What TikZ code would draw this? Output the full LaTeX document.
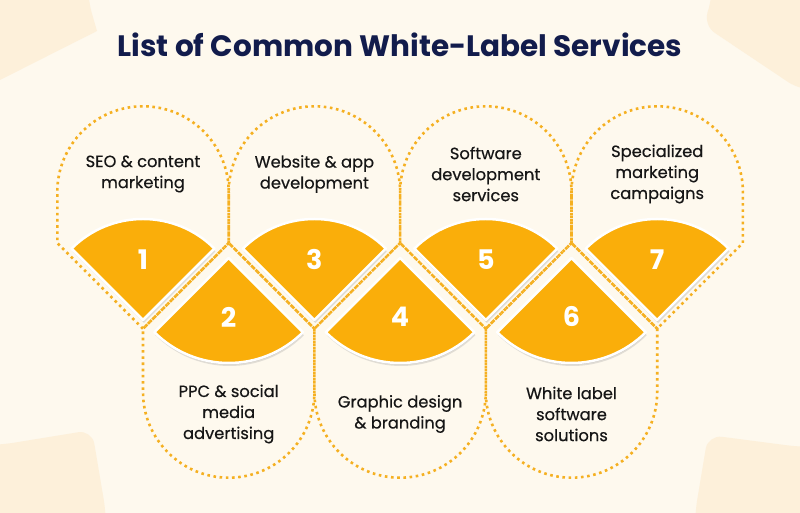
\documentclass[tikz,border=0pt]{standalone}
\usepackage{fontspec}
\setmainfont{Poppins}
\newfontfamily\medfont{Poppins}[FakeBold=0.5]
\definecolor{bg}{HTML}{FEF9EE}
\definecolor{blob}{HTML}{FDF0DA}
\definecolor{org}{HTML}{FAAE0A}
\definecolor{dotc}{HTML}{F5B021}
\definecolor{navy}{HTML}{121C4C}
\definecolor{ink}{HTML}{161616}
\begin{document}
\begin{tikzpicture}[x=1pt,y=1pt,
  dotline/.style={draw=dotc, line width=2.6pt, dash pattern=on 2.6pt off 3.6pt},
  sect/.style={fill=org, draw=white, line width=2.5pt, line join=round},
  shadeA/.style={fill=black!45, opacity=0.25},
  lbl/.style={text=ink, font=\medfont\fontsize{16.3}{21}\selectfont, align=center, inner sep=0pt},
  num/.style={text=white, font=\bfseries\fontsize{27}{27}\selectfont, inner sep=0pt},
  ttl/.style={text=navy, font=\bfseries\fontsize{29.5}{32}\selectfont, inner sep=0pt}]
\fill[bg] (0,0) rectangle (800,513);
\useasboundingbox (0,0) rectangle (800,513);
% corner blobs
\fill[blob, rounded corners=14pt] (-20,533) -- (88,533) -- (88,513) [sharp corners] -- (97,482) -- (0,433) -- (-20,433) -- cycle;
\fill[blob, rounded corners=14pt] (712,533) -- (712,513) -- (703,488) -- (800,423) -- (820,423) -- (820,533) -- cycle;
\fill[blob, rounded corners=14pt] (-20,68) -- (0,68) -- (92,83) -- (106,0) -- (106,-20) -- (-20,-20) -- cycle;
\fill[blob, rounded corners=14pt] (695,-20) -- (695,0) -- (708,78) -- (800,66) -- (820,66) -- (820,-20) -- cycle;
% title
\node[ttl] (title) at (400,468) {List of Common White-Label Services};
% sectors: top (odd)
\foreach \k in {1,3,5,7} {
  \pgfmathsetmacro\c{143+85.7*(\k-1)}
  \fill[shadeA] (\c+1,190) -- ++(45:101) arc[start angle=45,end angle=135,radius=101] -- cycle;
  \fill[shadeA] (\c+0.5,191.5) -- ++(45:101) arc[start angle=45,end angle=135,radius=101] -- cycle;
  \draw[sect] (\c,193) -- ++(45:101) arc[start angle=45,end angle=135,radius=101] -- cycle;
}
% sectors: bottom (even)
\foreach \k in {2,4,6} {
  \pgfmathsetmacro\c{143+85.7*(\k-1)}
  \fill[shadeA] (\c+1,252) -- ++(-45:105) arc[start angle=-45,end angle=-135,radius=105] -- cycle;
  \fill[shadeA] (\c+0.5,253.5) -- ++(-45:105) arc[start angle=-45,end angle=-135,radius=105] -- cycle;
  \draw[sect] (\c,255) -- ++(-45:105) arc[start angle=-45,end angle=-135,radius=105] -- cycle;
}
% dotted outlines
\foreach \k in {1,3,5,7} {
  \pgfmathsetmacro\c{143+85.7*(\k-1)}
  \draw[dotline] (\c,184.3) -- (\c-85.7,270) -- (\c-85.7,321) arc[start angle=180,end angle=0,radius=85.7] -- (\c+85.7,270) -- cycle;
}
\foreach \k in {2,4,6} {
  \pgfmathsetmacro\c{143+85.7*(\k-1)}
  \draw[dotline] (\c,270) -- (\c-85.7,184.3) -- (\c-85.7,121) arc[start angle=180,end angle=360,radius=85.7] -- (\c+85.7,184.3) -- cycle;
}
% numbers
\foreach \k in {1,3,5,7} {
  \pgfmathsetmacro\c{143+85.7*(\k-1)}
  \node[num] (n\k) at (\c,253) {\k};
}
\foreach \k in {2,4,6} {
  \pgfmathsetmacro\c{143+85.7*(\k-1)}
  \node[num] (n\k) at (\c,196) {\k};
}
% labels
\foreach \k/\txt in {1/{SEO \& content\\marketing}, 3/{Website \& app\\development}, 5/{Software\\development\\services}, 7/{Specialized\\marketing\\campaigns}} {
  \pgfmathsetmacro\c{143+85.7*(\k-1)}
  \node[lbl] (t\k) at (\c,339) {\txt};
}
\foreach \k/\txt in {2/{PPC \& social\\media\\advertising}, 4/{Graphic design\\\& branding}, 6/{White label\\software\\solutions}} {
  \pgfmathsetmacro\c{143+85.7*(\k-1)}
  \node[lbl] (t\k) at (\c,99) {\txt};
}
\end{tikzpicture}
\end{document}
